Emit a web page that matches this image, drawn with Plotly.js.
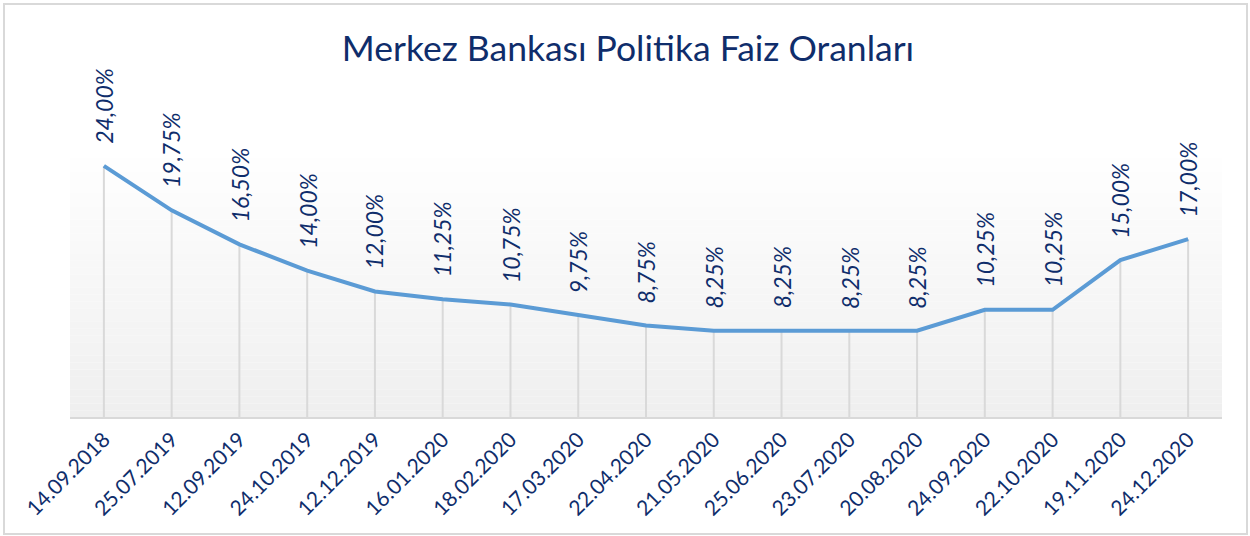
<!DOCTYPE html>
<html>
<head>
<meta charset="utf-8">
<script src="https://cdn.plot.ly/plotly-3.0.1.min.js"></script>
<style>
  html, body { margin: 0; padding: 0; background: #fff; }
  #wrap { position: relative; width: 1250px; height: 536px; }
  #chart { position: absolute; left: 0; top: 0; width: 1250px; height: 536px; }
  #frame { position: absolute; left: 3px; top: 3px; width: 1241px; height: 528px;
           border: 2px solid #d9d9d9; pointer-events: none; }
</style>
</head>
<body>
<div id="wrap">
  <div id="chart"></div>
  <div id="frame"></div>
</div>
<script>
const dates = ["14.09.2018","25.07.2019","12.09.2019","24.10.2019","12.12.2019","16.01.2020",
  "18.02.2020","17.03.2020","22.04.2020","21.05.2020","25.06.2020","23.07.2020","20.08.2020",
  "24.09.2020","22.10.2020","19.11.2020","24.12.2020"];
const rates = [24.00,19.75,16.50,14.00,12.00,11.25,10.75,9.75,8.75,8.25,8.25,8.25,8.25,10.25,10.25,15.00,17.00];
const labels = ["24,00%","19,75%","16,50%","14,00%","12,00%","11,25%","10,75%","9,75%","8,75%",
  "8,25%","8,25%","8,25%","8,25%","10,25%","10,25%","15,00%","17,00%"];

const navy = "#0f2d6b";
const lineBlue = "#5b9bd5";
const fontFam = "Lato, 'Open Sans', sans-serif";

// vertical gradient background for the plot area (decoration)
const shapes = [];
const bands = 40;
for (let i = 0; i < bands; i++) {
  const t = i / (bands - 1);
  const c = Math.round(255 - t * (255 - 239));
  shapes.push({
    type: "rect", xref: "paper", yref: "paper",
    x0: 0, x1: 1, y0: 1 - (i + 1) / bands, y1: 1 - i / bands,
    fillcolor: `rgb(${c},${c},${c})`, line: { width: 0 }, layer: "below"
  });
}

const annotations = dates.map((d, i) => ({
  x: d, y: rates[i], xref: "x", yref: "y",
  text: labels[i], showarrow: false, textangle: -90,
  xanchor: "center", yanchor: "bottom", yshift: 20,
  font: { family: fontFam, size: 23, color: navy, style: "italic" }
}));

const traces = [
  {
    x: dates, y: rates, type: "scatter", mode: "markers",
    marker: { size: 1, opacity: 0 },
    error_y: { type: "data", symmetric: false, array: rates.map(() => 0), arrayminus: rates,
               color: "#d9d9d9", thickness: 2, width: 0 },
    hoverinfo: "skip", showlegend: false
  },
  {
    x: dates, y: rates, type: "scatter", mode: "lines",
    line: { color: lineBlue, width: 4 }, showlegend: false
  }
];

const layout = {
  width: 1250, height: 536,
  margin: { l: 70, r: 28, t: 145, b: 119 },
  paper_bgcolor: "#ffffff", plot_bgcolor: "rgba(0,0,0,0)",
  title: {
    text: "Merkez Bankası Politika Faiz Oranları",
    font: { family: fontFam, size: 35.5, color: navy },
    x: 0.5024, xanchor: "center", y: 0.91, yanchor: "middle", xref: "container"
  },
  xaxis: {
    type: "category", range: [-0.5, 16.5],
    showgrid: false, zeroline: false,
    showline: true, linecolor: "#d9d9d9", linewidth: 2,
    ticks: "", tickangle: -45,
    tickfont: { family: fontFam, size: 21, color: navy }
  },
  yaxis: {
    range: [0, 26], showgrid: false, zeroline: false, showticklabels: false,
    showline: false, ticks: ""
  },
  shapes: shapes,
  annotations: annotations,
  showlegend: false
};

Plotly.newPlot("chart", traces, layout, { displayModeBar: false, staticPlot: true });
</script>
</body>
</html>
